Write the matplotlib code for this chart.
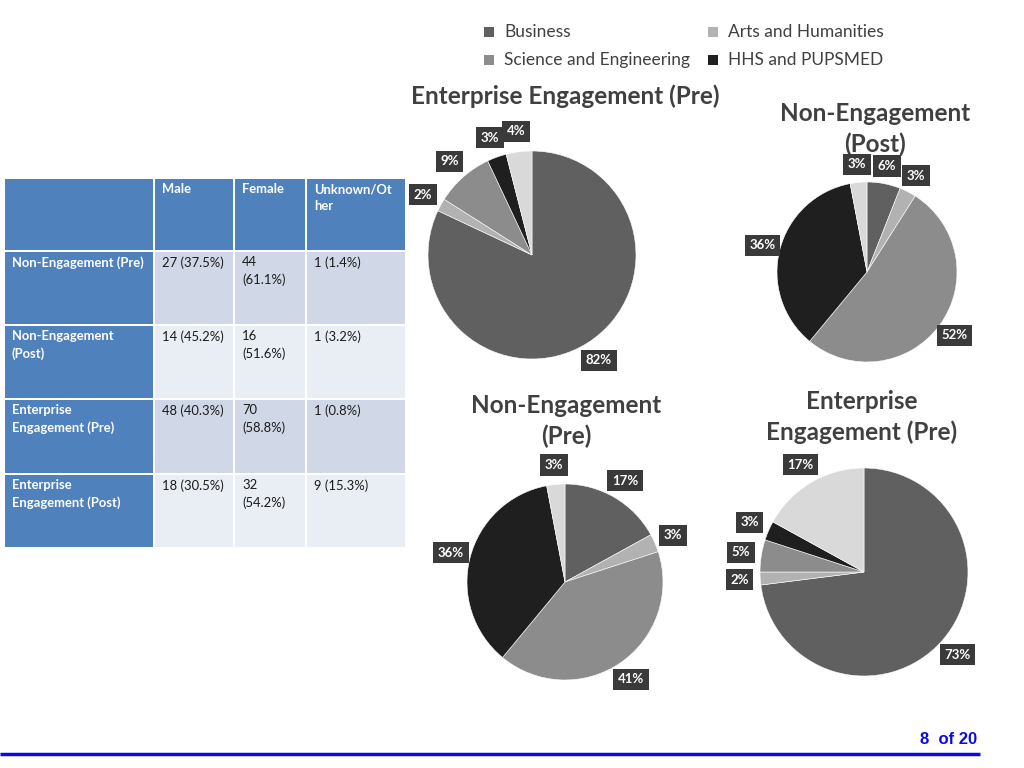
import numpy as np
import matplotlib
matplotlib.use("Agg")
import matplotlib.pyplot as plt
from matplotlib.patches import Rectangle

plt.rcParams['font.family'] = ['Lato', 'DejaVu Sans']

# ---- data ----
faculties = ['Business', 'Arts and Humanities', 'Science and Engineering',
             'HHS and PUPSMED', 'Other']
colors = ['#606060', '#b2b2b2', '#8c8c8c', '#1f1f1f', '#d9d9d9']

pie_titles = ['Enterprise Engagement (Pre)', 'Non-Engagement\n(Post)',
              'Non-Engagement\n(Pre)', 'Enterprise\nEngagement (Pre)']
ent_pre_top = [82, 2, 9, 3, 4]
non_post = [6, 3, 52, 36, 3]
non_pre = [17, 3, 41, 36, 3]
ent_pre_bottom = [73, 2, 5, 3, 17]

table_cols = ['', 'Male', 'Female', 'Unknown/Ot\nher']
table_rows = ['Non-Engagement (Pre)', 'Non-Engagement\n(Post)',
              'Enterprise\nEngagement (Pre)', 'Enterprise\nEngagement (Post)']
male = ['27 (37.5%)', '14 (45.2%)', '48 (40.3%)', '18 (30.5%)']
female = ['44\n(61.1%)', '16\n(51.6%)', '70\n(58.8%)', '32\n(54.2%)']
unknown = ['1 (1.4%)', '1 (3.2%)', '1 (0.8%)', '9 (15.3%)']

W, H = 1024, 768
fig = plt.figure(figsize=(W / 100, H / 100), dpi=100)
fig.patch.set_facecolor('white')

# overlay axis in pixel coordinates
ax0 = fig.add_axes([0, 0, 1, 1])
ax0.set_xlim(0, W)
ax0.set_ylim(H, 0)
ax0.axis('off')

# ---- table ----
col_edges = [5, 155, 235, 307, 407]
row_edges = [179, 252, 326, 400, 475, 549]
gap = 2
header_blue = '#4f81bd'
body_cols = ['#d0d8e8', '#e9edf4']
cells = [male, female, unknown]
for r in range(5):
    for c in range(4):
        x0, x1 = col_edges[c], col_edges[c + 1] - gap
        y0, y1 = row_edges[r], row_edges[r + 1] - gap
        if r == 0 or c == 0:
            fc = header_blue
        else:
            fc = body_cols[(r - 1) % 2]
        ax0.add_patch(Rectangle((x0, y0), x1 - x0, y1 - y0, fc=fc, ec='none'))
        if r == 0:
            txt, col, wt = table_cols[c], 'white', 'bold'
        elif c == 0:
            txt, col, wt = table_rows[r - 1], 'white', 'bold'
        else:
            txt, col, wt = cells[c - 1][r - 1], '#1a1a1a', 'normal'
        ax0.text(x0 + 7, y0 + 4, txt, ha='left', va='top', fontsize=9.4,
                 color=col, fontweight=wt, linespacing=1.5)

# ---- legend ----
leg_pos = [(489, 32), (713, 32), (489, 60), (713, 60)]
for (lx, ly), name, colr in zip(leg_pos, faculties[:4], colors[:4]):
    ax0.add_patch(Rectangle((lx - 5, ly - 5), 10, 10, fc=colr, ec='none'))
    ax0.text(lx + 15, ly, name, ha='left', va='center', fontsize=12.5,
             color='#404040')

# ---- footer ----
ax0.plot([0, 980], [754, 754], color='#0a0ae6', lw=2.5, solid_capstyle='butt')
ax0.text(977, 740, '8  of 20', ha='right', va='center', fontsize=12,
         fontweight='bold', color='#0a0ae6', family='Liberation Sans')

# ---- pies ----
pies = [
    (ent_pre_top, (532, 255), 104, (565, 96)),
    (non_post, (867, 272), 90, (875, 129)),
    (non_pre, (565, 582), 98, (566, 421)),
    (ent_pre_bottom, (864, 572), 104, (862, 417)),
]

for (vals, (cx, cy), rad, (tx, ty)), title in zip(pies, pie_titles):
    ax = fig.add_axes([(cx - rad) / W, (H - cy - rad) / H, 2 * rad / W, 2 * rad / H])
    wedges, _ = ax.pie(vals, colors=colors, startangle=90, counterclock=False,
                       wedgeprops=dict(edgecolor='white', linewidth=0.4))
    ax.set_xlim(-1, 1)
    ax.set_ylim(-1, 1)
    ax.set_aspect('equal')
    ax.axis('off')
    for w, v in zip(wedges, vals):
        ang = np.deg2rad((w.theta1 + w.theta2) / 2)
        d = 1.2
        ax.text(d * np.cos(ang), d * np.sin(ang), f'{v}%', ha='center',
                va='center', fontsize=9.5, fontweight='bold', color='white',
                bbox=dict(boxstyle='square,pad=0.35', fc='#3a3a3a', ec='none'),
                clip_on=False)
    ax0.text(tx, ty, title, ha='center', va='center', fontsize=17.5,
             fontweight='bold', color='#404040', linespacing=1.4)

fig.savefig('out.png', dpi=100)
